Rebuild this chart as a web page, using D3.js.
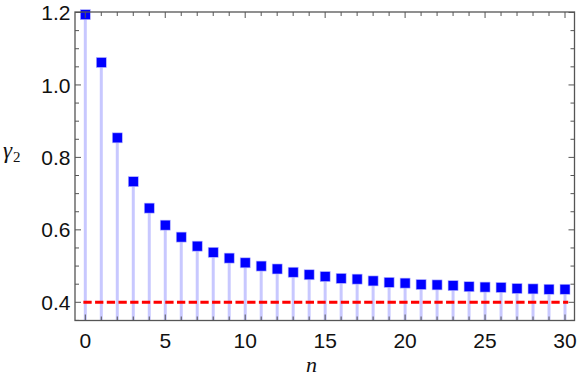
<!DOCTYPE html>
<html>
<head>
<meta charset="utf-8">
<script src="https://cdn.jsdelivr.net/npm/d3@7"></script>
<style>
  body { margin: 0; background: #fff; }
  svg text { font-family: "Liberation Sans", Arial, sans-serif; }
</style>
</head>
<body>
<svg id="chart" width="581" height="379"></svg>
<script>
// data
var nValues = d3.range(0, 31);
var gammaValues = [1.194, 1.062, 0.854, 0.733, 0.660, 0.613, 0.580, 0.555, 0.538, 0.522,
    0.509, 0.500, 0.492, 0.483, 0.476, 0.471, 0.466, 0.464, 0.459, 0.455,
    0.453, 0.449, 0.448, 0.446, 0.443, 0.442, 0.441, 0.438, 0.437, 0.436, 0.436];
var limitValue = 0.4;
var xTicks = [0, 5, 10, 15, 20, 25, 30];
var yTicks = [0.4, 0.6, 0.8, 1.0, 1.2];

var frameLeft = 75, frameRight = 574.5, frameTop = 12, frameBottom = 320.5;
var frameColor = "#555";
var stemColor = "#c8c8ff";
var squareColor = "#0000ff";
var squareSize = 10;

var x = d3.scaleLinear().domain([0, 30]).range([85.3, 565]);
var y = d3.scaleLinear().domain([0.4, 1.2]).range([302.3, 12.5]);

var svg = d3.select("#chart");

// stems
svg.append("g").selectAll("line")
    .data(nValues)
    .enter().append("line")
    .attr("x1", function(d) { return x(d); })
    .attr("x2", function(d) { return x(d); })
    .attr("y1", function(d) { return y(gammaValues[d]); })
    .attr("y2", frameBottom)
    .style("stroke", stemColor)
    .style("stroke-width", 3);

// limit line
svg.append("line")
    .attr("x1", x(-0.12))
    .attr("x2", x(30.2))
    .attr("y1", y(limitValue))
    .attr("y2", y(limitValue))
    .style("stroke", "#ff0000")
    .style("stroke-width", 3)
    .style("stroke-dasharray", "8.3,3.4");

// squares
svg.append("g").selectAll("rect")
    .data(nValues)
    .enter().append("rect")
    .attr("x", function(d) { return x(d) - squareSize / 2; })
    .attr("y", function(d) { return y(gammaValues[d]) - squareSize / 2; })
    .attr("width", squareSize)
    .attr("height", squareSize)
    .style("fill", squareColor)
    .style("stroke", "#b8b8ff")
    .style("stroke-width", 0.6);

// frame
svg.append("rect")
    .attr("x", frameLeft)
    .attr("y", frameTop)
    .attr("width", frameRight - frameLeft)
    .attr("height", frameBottom - frameTop)
    .style("fill", "none")
    .style("stroke", frameColor)
    .style("stroke-width", 1.3);

// ticks on all four sides, pointing inward
var ticks = svg.append("g").style("stroke", frameColor).style("stroke-width", 1);
d3.range(0, 31).forEach(function(n) {
    var len = n % 5 == 0 ? 6 : 4;
    ticks.append("line").attr("x1", x(n)).attr("x2", x(n))
        .attr("y1", frameBottom).attr("y2", frameBottom - len);
    ticks.append("line").attr("x1", x(n)).attr("x2", x(n))
        .attr("y1", frameTop).attr("y2", frameTop + len);
});
d3.range(7, 25).forEach(function(k) {
    var v = k * 0.05;
    var len = k % 4 == 0 ? 6 : 4;
    ticks.append("line").attr("y1", y(v)).attr("y2", y(v))
        .attr("x1", frameLeft).attr("x2", frameLeft + len);
    ticks.append("line").attr("y1", y(v)).attr("y2", y(v))
        .attr("x1", frameRight).attr("x2", frameRight - len);
});

// tick labels
svg.append("g").selectAll("text")
    .data(xTicks)
    .enter().append("text")
    .attr("x", function(d) { return x(d); })
    .attr("y", 348)
    .attr("text-anchor", "middle")
    .style("font-size", "21px")
    .style("fill", "#111")
    .text(function(d) { return d; });

svg.append("g").selectAll("text")
    .data(yTicks)
    .enter().append("text")
    .attr("x", 70.5)
    .attr("y", function(d) { return y(d); })
    .attr("dy", "0.36em")
    .attr("text-anchor", "end")
    .style("font-size", "21px")
    .style("fill", "#111")
    .text(function(d) { return d3.format(".1f")(d); });

// axis labels
var ylab = svg.append("text")
    .attr("x", 3)
    .attr("y", 158)
    .style("font-family", "'Liberation Serif', serif")
    .style("fill", "#111");
ylab.append("tspan").style("font-style", "italic").style("font-size", "23px").text("γ");
ylab.append("tspan").attr("dy", 4).attr("dx", 1).style("font-size", "15px").text("2");

svg.append("text")
    .attr("x", 311.5)
    .attr("y", 372)
    .attr("text-anchor", "middle")
    .style("font-family", "'Liberation Serif', serif")
    .style("font-style", "italic")
    .style("font-size", "22px")
    .style("fill", "#111")
    .text("n");
</script>
</body>
</html>
